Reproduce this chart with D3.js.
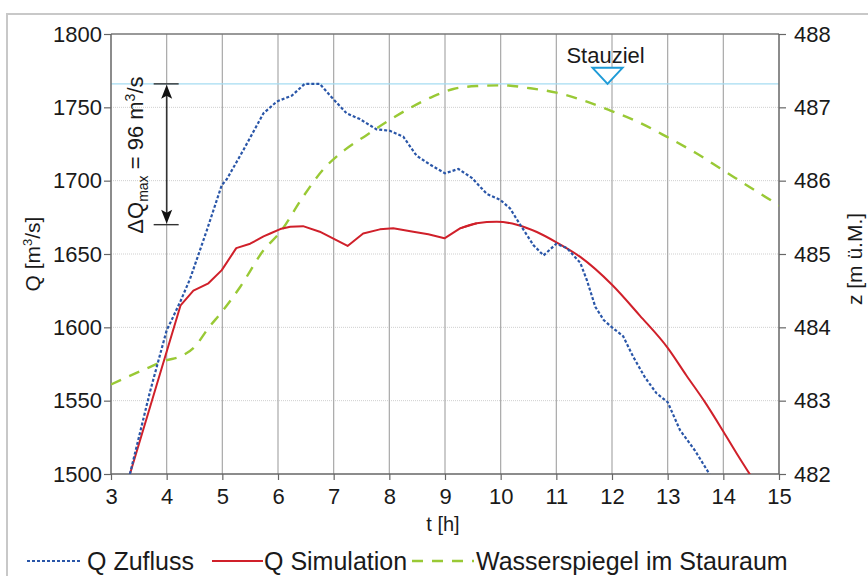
<!DOCTYPE html>
<html><head><meta charset="utf-8">
<script src="https://cdn.jsdelivr.net/npm/d3@7"></script>
<style>
html,body{margin:0;padding:0;background:#fff;}
svg{display:block;font-family:"Liberation Sans",Arial,sans-serif;}
</style></head>
<body>
<svg id="chart" width="868" height="576"></svg>
<script>
// ---- data ----
const tZufluss = [3.34, 3.7, 4.0, 4.09, 4.25, 4.42, 4.72, 4.99, 5.08, 5.38, 5.74, 5.86, 5.98, 6.25, 6.48, 6.75, 6.96, 7.23, 7.47, 7.77, 8.01, 8.25, 8.49, 8.73, 9.0, 9.24, 9.48, 9.75, 9.99, 10.17, 10.35, 10.59, 10.77, 11.0, 11.19, 11.43, 11.55, 11.7, 11.85, 12.0, 12.2, 12.38, 12.59, 12.8, 13.0, 13.22, 13.49, 13.75];
const qZufluss = [1500, 1556, 1598, 1605, 1618, 1633, 1666, 1697, 1701, 1721, 1746, 1750, 1754, 1758, 1766, 1766, 1757, 1746, 1742, 1735, 1734, 1730, 1717, 1711, 1705, 1708, 1702, 1691, 1687, 1681, 1670, 1656, 1649, 1657, 1654, 1644, 1632, 1614, 1605, 1600, 1594, 1580, 1566, 1555, 1549, 1530, 1516, 1500];

// simulated outflow: first part (with sharp kinks) and smooth recession part
const tSimulation = [3.34, 4.25, 4.48, 4.75, 4.99, 5.25, 5.5, 5.74, 5.86, 6.04, 6.22, 6.45, 6.75, 7.25, 7.53, 7.83, 8.07, 8.43, 8.7, 8.99, 9.27, 9.57];
const qSimulation = [1500, 1615, 1625, 1630, 1639, 1654, 1657, 1662, 1664, 1667, 1668.6, 1669, 1665.2, 1655.5, 1664, 1666.8, 1667.5, 1665.2, 1663.5, 1660.7, 1667.5, 1671];
const tSimulationTail = [9.27, 9.57, 9.93, 10.29, 10.65, 11.0, 11.43, 12.0, 12.5, 13.0, 13.34, 13.67, 14.0, 14.24, 14.49];
const qSimulationTail = [1667.5, 1671, 1672, 1670, 1665, 1658, 1648, 1629, 1608, 1586, 1567, 1549, 1529, 1514, 1499];

const tWasser = [3.0, 3.64, 3.99, 4.24, 4.51, 4.75, 4.99, 5.32, 5.74, 6.04, 6.45, 6.81, 7.2, 7.59, 7.95, 8.37, 8.79, 9.15, 9.57, 10.05, 10.53, 11.0, 11.5, 11.96, 12.5, 12.98, 13.5, 13.94, 14.5, 14.9, 15.0];
const zWasser = [483.22, 483.44, 483.55, 483.6, 483.74, 483.99, 484.21, 484.55, 485.05, 485.3, 485.78, 486.15, 486.42, 486.62, 486.80, 486.99, 487.15, 487.25, 487.29, 487.30, 487.26, 487.2, 487.09, 486.96, 486.79, 486.6, 486.38, 486.17, 485.9, 485.71, 485.66];

const xTicks = [3, 4, 5, 6, 7, 8, 9, 10, 11, 12, 13, 14, 15];
const qTicks = [1500, 1550, 1600, 1650, 1700, 1750, 1800];
const zTicks = [482, 483, 484, 485, 486, 487, 488];

const qMaxZufluss = 1766;   // peak inflow
const qMaxSim = 1670;       // peak simulated outflow (lower arrow cap)
const tArrow = 4;
const tStauziel = 11.92;
const legendLabels = ["Q Zufluss", "Q Simulation", "Wasserspiegel im Stauraum"];

// ---- layout ----
const L = 111, R = 779, T = 34, B = 474;
const svg = d3.select("#chart");
const x = d3.scaleLinear().domain([3, 15]).range([L, R]);
const yQ = d3.scaleLinear().domain([1500, 1800]).range([B, T]);
const yZ = d3.scaleLinear().domain([482, 488]).range([B, T]);

const textCol = "#1a1a1a";

// outer frame
svg.append("rect").attr("x", 7).attr("y", 14).attr("width", 900).attr("height", 600)
  .attr("fill", "none").attr("stroke", "#c8c8c8").attr("stroke-width", 2);

// horizontal grid (dotted)
svg.append("g").selectAll("line").data(qTicks.filter(d => d > 1500 && d < 1800)).join("line")
  .attr("x1", L).attr("x2", R).attr("y1", d => yQ(d)).attr("y2", d => yQ(d))
  .attr("stroke", "#cfcfcf").attr("stroke-width", 1).attr("stroke-dasharray", "1,1");

// vertical grid
svg.append("g").selectAll("line").data(xTicks.filter(d => d > 3 && d < 15)).join("line")
  .attr("x1", d => x(d)).attr("x2", d => x(d)).attr("y1", T).attr("y2", B)
  .attr("stroke", "#a8a8a8").attr("stroke-width", 1.2);

// Stauziel line
svg.append("line").attr("x1", L).attr("x2", R).attr("y1", yQ(qMaxZufluss)).attr("y2", yQ(qMaxZufluss))
  .attr("stroke", "#a6dcf2").attr("stroke-width", 1.2);

// axes
const axL = svg.append("g").attr("transform", `translate(${L},0)`)
  .call(d3.axisLeft(yQ).tickValues(qTicks).tickSize(7).tickPadding(2).tickFormat(d3.format("d")));
const axR = svg.append("g").attr("transform", `translate(${R},0)`)
  .call(d3.axisRight(yZ).tickValues(zTicks).tickSize(7).tickPadding(8).tickFormat(d3.format("d")));
const axB = svg.append("g").attr("transform", `translate(0,${B})`)
  .call(d3.axisBottom(x).tickValues(xTicks).tickSize(6).tickPadding(8).tickFormat(d3.format("d")));
[axL, axR, axB].forEach(a => {
  a.select(".domain").remove();
  a.selectAll("line").attr("stroke", "#666").attr("stroke-width", 1.2);
  a.selectAll("text").attr("font-size", 22).attr("fill", textCol).attr("font-family", "Liberation Sans, Arial, sans-serif");
});

// plot frame
svg.append("line").attr("x1", L).attr("x2", R).attr("y1", T).attr("y2", T).attr("stroke", "#777").attr("stroke-width", 1.5);
svg.append("line").attr("x1", L).attr("x2", R).attr("y1", B).attr("y2", B).attr("stroke", "#666").attr("stroke-width", 1.5);
svg.append("line").attr("x1", L).attr("x2", L).attr("y1", T).attr("y2", B).attr("stroke", "#666").attr("stroke-width", 1.5);
svg.append("line").attr("x1", R).attr("x2", R).attr("y1", T).attr("y2", B).attr("stroke", "#666").attr("stroke-width", 1.5);

// clip
svg.append("clipPath").attr("id", "clip").append("rect").attr("x", L).attr("y", T).attr("width", R - L).attr("height", B - T);

const lineQ = d3.line().x(d => x(d[0])).y(d => yQ(d[1]));
const lineQs = d3.line().x(d => x(d[0])).y(d => yQ(d[1])).curve(d3.curveMonotoneX);
const lineZ = d3.line().x(d => x(d[0])).y(d => yZ(d[1])).curve(d3.curveMonotoneX);

const gLines = svg.append("g").attr("clip-path", "url(#clip)");
gLines.append("path").datum(tWasser.map((t, i) => [t, zWasser[i]])).attr("d", lineZ)
  .attr("fill", "none").attr("stroke", "#99c935").attr("stroke-width", 2.4).attr("stroke-dasharray", "11,9");
gLines.append("path").datum(tSimulation.map((t, i) => [t, qSimulation[i]])).attr("d", lineQ)
  .attr("fill", "none").attr("stroke", "#d0202a").attr("stroke-width", 2).attr("stroke-linejoin", "round");
gLines.append("path").datum(tSimulationTail.map((t, i) => [t, qSimulationTail[i]])).attr("d", lineQs)
  .attr("fill", "none").attr("stroke", "#d0202a").attr("stroke-width", 2).attr("stroke-linejoin", "round");
gLines.append("path").datum(tZufluss.map((t, i) => [t, qZufluss[i]])).attr("d", lineQ)
  .attr("fill", "none").attr("stroke", "#2a56a8").attr("stroke-width", 2.2).attr("stroke-dasharray", "3,2");

// Delta Q arrow
const ax = x(tArrow), y1 = yQ(qMaxZufluss), y2 = yQ(qMaxSim);
const ga = svg.append("g");
ga.append("line").attr("x1", ax).attr("x2", ax).attr("y1", y1 + 6).attr("y2", y2 - 6).attr("stroke", "#333").attr("stroke-width", 1.6);
[y1, y2].forEach(yy => ga.append("line").attr("x1", ax - 13).attr("x2", ax + 12).attr("y1", yy).attr("y2", yy).attr("stroke", "#333").attr("stroke-width", 1.4));
ga.append("path").attr("d", `M${ax},${y1 + 1} L${ax - 5.5},${y1 + 15} L${ax},${y1 + 12} L${ax + 5.5},${y1 + 15} Z`).attr("fill", "#111");
ga.append("path").attr("d", `M${ax},${y2 - 1} L${ax - 5.5},${y2 - 15} L${ax},${y2 - 12} L${ax + 5.5},${y2 - 15} Z`).attr("fill", "#111");

const dq = svg.append("text").attr("transform", `translate(143,${y2 + 9}) rotate(-90)`)
  .attr("font-size", 22).attr("fill", textCol);
dq.append("tspan").text("ΔQ");
dq.append("tspan").attr("font-size", 14).attr("dy", 5).text("max");
dq.append("tspan").attr("dy", -5).text(" = " + (qMaxZufluss - qMaxSim) + " m");
dq.append("tspan").attr("font-size", 14).attr("dy", -8).text("3");
dq.append("tspan").attr("dy", 8).text("/s");

// Stauziel marker
const sx = x(tStauziel), sy = yQ(qMaxZufluss);
svg.append("path").attr("d", `M${sx},${sy} L${sx - 15},${sy - 16} L${sx + 15},${sy - 16} Z`)
  .attr("fill", "#fff").attr("stroke", "#1e9bd7").attr("stroke-width", 2);
svg.append("text").attr("x", sx - 2).attr("y", sy - 21).attr("text-anchor", "middle")
  .attr("font-size", 22).attr("fill", textCol).text("Stauziel");

// axis titles
svg.append("text").attr("transform", `translate(40,${(T + B) / 2}) rotate(-90)`).attr("text-anchor", "middle")
  .attr("font-size", 21).attr("fill", textCol)
  .call(t => { t.append("tspan").text("Q [m"); t.append("tspan").attr("font-size", 13).attr("dy", -8).text("3"); t.append("tspan").attr("dy", 8).text("/s]"); });
svg.append("text").attr("transform", `translate(862,${(T + B) / 2 + 5}) rotate(-90)`).attr("text-anchor", "middle")
  .attr("font-size", 21).attr("fill", textCol).text("z [m ü.M.]");
svg.append("text").attr("x", (L + R) / 2 - 2).attr("y", 531).attr("text-anchor", "middle")
  .attr("font-size", 20).attr("fill", textCol).text("t [h]");

// legend
const lg = svg.append("g");
const ly = 561;
const legendItems = [
  {x1: 27, x2: 82, tx: 87, col: "#2a56a8", dash: "3,2", w: 2, label: legendLabels[0]},
  {x1: 212, x2: 263, tx: 264, col: "#d0202a", dash: null, w: 2, label: legendLabels[1]},
  {x1: 412, x2: 474, tx: 476, col: "#99c935", dash: "11,9", w: 2.4, label: legendLabels[2]}
];
legendItems.forEach(it => {
  const l = lg.append("line").attr("x1", it.x1).attr("x2", it.x2).attr("y1", ly).attr("y2", ly)
    .attr("stroke", it.col).attr("stroke-width", it.w);
  if (it.dash) l.attr("stroke-dasharray", it.dash);
  lg.append("text").attr("x", it.tx).attr("y", ly + 9).attr("font-size", 25).attr("fill", textCol).text(it.label);
});
</script>
</body></html>
